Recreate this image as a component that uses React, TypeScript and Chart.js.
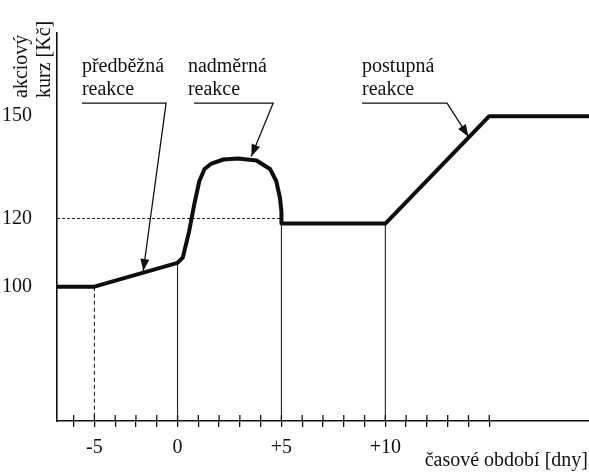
import React, { useEffect, useRef } from 'react';
import { Chart, registerables } from 'chart.js';

Chart.register(...registerables);

// ---- data ----
const X_MIN = -0.8;
const X_MAX = 24.8;
const Y_MIN = 60.6;
const Y_MAX = 174.4;

// day index (tick position) and share price [Kč]
const priceX = [-0.8, 1, 5, 5.25, 5.55, 5.8, 6.05, 6.3, 6.6, 7.2, 7.9, 8.8, 9.45, 9.75, 9.93, 10, 10, 15, 20, 24.8];
const priceY = [100, 100, 107, 108.5, 116, 124, 131, 134.5, 136, 137.3, 137.6, 137, 134.5, 131, 126, 122, 118.5, 118.5, 150, 150];

const tickLabels = ['', '-5', '', '', '', '0', '', '', '', '', '+5', '', '', '', '', '+10', '', '', '', '', ''];
const yTickValues = [100, 120, 150];

const refLevel = 120;
const refEndX = 10;

const guideX = [1, 5, 10, 15];
const guideTop = [100, 107, 118.5, 118.5];
const guideDashed = [true, false, false, false];

const annoLines = [
  ['předběžná', 'reakce'],
  ['nadměrná', 'reakce'],
  ['postupná', 'reakce'],
];
const annoTextX = [0.4, 5.5, 13.88];
const annoUnderStart = [0.4, 5.79, 13.88];
const annoUnderEnd = [4.45, 9.6, 17.97];
const annoBaseline = 162.9;
const annoTipX = [3.35, 8.55, 19.0];
const annoTipY = [104.6, 138.2, 144.0];

const yTitle = ['akciový', 'kurz [Kč]'];
const xTitle = 'časové období [dny]';

const FONT = "'Liberation Serif', 'Times New Roman', serif";

const drawPlugin = {
  id: 'decor',
  afterDatasetsDraw(chart: any) {
    const { ctx, scales, chartArea } = chart;
    const xs = scales.x;
    const ys = scales.y;
    ctx.save();
    // upper halves of x ticks
    ctx.strokeStyle = '#111';
    ctx.lineWidth = 1.3;
    tickLabels.forEach((_, i) => {
      const px = xs.getPixelForValue(i);
      ctx.beginPath();
      ctx.moveTo(px, chartArea.bottom);
      ctx.lineTo(px, chartArea.bottom - 6);
      ctx.stroke();
    });

    // annotations
    ctx.fillStyle = '#111';
    ctx.font = `20px ${FONT}`;
    ctx.textAlign = 'left';
    ctx.textBaseline = 'alphabetic';
    annoLines.forEach((lines, k) => {
      const tx = xs.getPixelForValue(annoTextX[k]);
      const by = ys.getPixelForValue(annoBaseline);
      lines.forEach((t, j) => ctx.fillText(t, tx, by + j * 23));
      const uy = by + 31;
      const ux0 = xs.getPixelForValue(annoUnderStart[k]);
      const ux1 = xs.getPixelForValue(annoUnderEnd[k]);
      const tipx = xs.getPixelForValue(annoTipX[k]);
      const tipy = ys.getPixelForValue(annoTipY[k]);
      ctx.lineWidth = 1.3;
      ctx.beginPath();
      ctx.moveTo(ux0, uy);
      ctx.lineTo(ux1, uy);
      ctx.lineTo(tipx, tipy);
      ctx.stroke();
      // arrow head
      const ang = Math.atan2(tipy - uy, tipx - ux1);
      const len = 12;
      const half = 4.5;
      const bx = tipx - Math.cos(ang) * len;
      const by2 = tipy - Math.sin(ang) * len;
      ctx.beginPath();
      ctx.moveTo(tipx, tipy);
      ctx.lineTo(bx + Math.sin(ang) * half, by2 - Math.cos(ang) * half);
      ctx.lineTo(bx - Math.sin(ang) * half, by2 + Math.cos(ang) * half);
      ctx.closePath();
      ctx.fill();
    });

    // y axis title (rotated, two lines)
    ctx.font = `20px ${FONT}`;
    const baseXs = [27, 50];
    yTitle.forEach((t, j) => {
      ctx.save();
      ctx.translate(baseXs[j], 98);
      ctx.rotate(-Math.PI / 2);
      ctx.textAlign = 'left';
      ctx.fillText(t, 0, 0);
      ctx.restore();
    });

    // x axis title
    ctx.font = `20px ${FONT}`;
    ctx.textAlign = 'right';
    ctx.fillText(xTitle, 588, 466);
    ctx.restore();
  },
};

export default function App() {
  const ref = useRef<HTMLCanvasElement | null>(null);

  useEffect(() => {
    document.body.style.margin = '0';
    const canvas = ref.current;
    if (!canvas) return;

    const datasets: any[] = [
      {
        data: priceX.map((x, i) => ({ x, y: priceY[i] })),
        borderColor: '#0d0d0d',
        borderWidth: 4,
        borderJoinStyle: 'round',
        pointRadius: 0,
        tension: 0,
        order: 0,
      },
      {
        data: [
          { x: X_MIN, y: refLevel },
          { x: refEndX, y: refLevel },
        ],
        borderColor: '#222',
        borderWidth: 1,
        borderDash: [3, 2],
        pointRadius: 0,
        order: 2,
      },
    ];
    guideX.forEach((gx, i) => {
      datasets.push({
        data: [
          { x: gx, y: guideTop[i] },
          { x: gx, y: Y_MIN },
        ],
        borderColor: '#222',
        borderWidth: 1.1,
        borderDash: guideDashed[i] ? [4, 3] : [],
        pointRadius: 0,
        order: 2,
      });
    });

    const chart = new Chart(canvas, {
      type: 'line',
      data: { datasets },
      options: {
        animation: false,
        responsive: false,
        layout: { padding: { left: 0, right: 0, top: 33, bottom: 3 } },
        plugins: { legend: { display: false }, tooltip: { enabled: false } },
        scales: {
          x: {
            type: 'linear',
            min: X_MIN,
            max: X_MAX,
            afterBuildTicks: (scale: any) => {
              scale.ticks = tickLabels.map((_, i) => ({ value: i }));
            },
            ticks: {
              autoSkip: false,
              maxRotation: 0,
              padding: 9,
              color: '#111',
              font: { family: FONT, size: 20 },
              callback: (_v: any, i: number) => tickLabels[i] ?? '',
            },
            grid: {
              display: true,
              drawOnChartArea: false,
              drawTicks: true,
              tickLength: 6,
              color: '#111',
              lineWidth: 1.3,
            },
            border: { display: true, color: '#111', width: 1.6 },
          },
          y: {
            type: 'linear',
            min: Y_MIN,
            max: Y_MAX,
            afterBuildTicks: (scale: any) => {
              scale.ticks = yTickValues.map((v) => ({ value: v }));
            },
            afterFit: (scale: any) => {
              scale.width = 57;
            },
            ticks: {
              padding: 17,
              color: '#111',
              font: { family: FONT, size: 20 },
            },
            grid: { display: false },
            border: { display: true, color: '#111', width: 1.6 },
          },
        },
      },
      plugins: [drawPlugin],
    } as any);

    return () => chart.destroy();
  }, []);

  return (
    <div style={{ width: 589, height: 472, background: '#fff' }}>
      <canvas ref={ref} width={589} height={472} style={{ display: 'block' }} />
    </div>
  );
}
